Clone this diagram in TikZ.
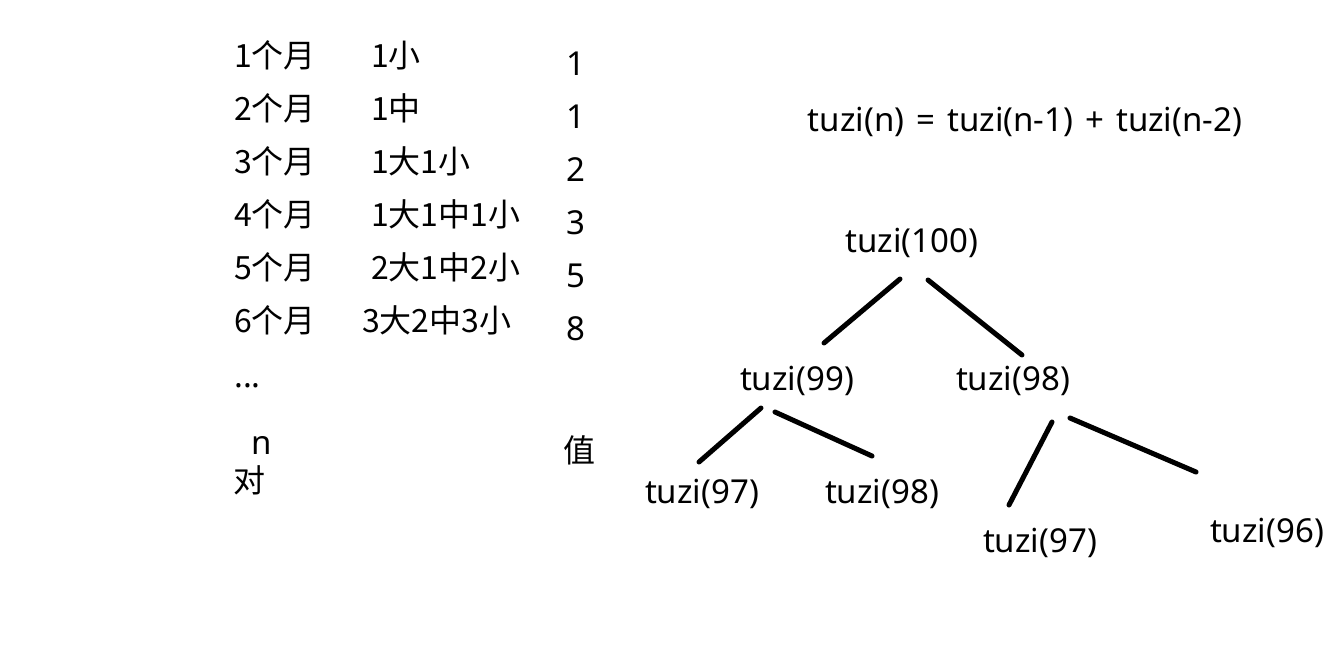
\documentclass[tikz,border=0pt]{standalone}
\usepackage{fontspec}
\setmainfont{Noto Sans}[WordSpace=1.4]
\newfontfamily\cjk{Noto Sans CJK SC}
\usepackage{tikz}

\begin{document}
\begin{tikzpicture}[x=1pt, y=-1pt,
    every node/.style={font=\fontsize{33}{38}\selectfont, inner sep=0pt},
    zh/.style={font=\cjk\fontsize{32}{38}\selectfont},
    branch/.style={line width=5pt, line cap=round}]
  \useasboundingbox [fill=white] (0, 0) rectangle (1339, 667);
  % months
  \node [zh, anchor=base west] (m1) at (234, 67) {1个月};
  \node [zh, anchor=base west] (m2) at (234, 120) {2个月};
  \node [zh, anchor=base west] (m3) at (234, 173) {3个月};
  \node [zh, anchor=base west] (m4) at (234, 226) {4个月};
  \node [zh, anchor=base west] (m5) at (234, 279) {5个月};
  \node [zh, anchor=base west] (m6) at (234, 332) {6个月};
  \node [anchor=base west] (dots) at (234, 387) {...};
  \node [anchor=base west] (n) at (251, 454) {n};
  \node [zh, anchor=base west] (pairs) at (233, 492) {对};
  % rabbits
  \node [zh, anchor=base west] (r1) at (371, 67) {1小};
  \node [zh, anchor=base west] (r2) at (371, 120) {1中};
  \node [zh, anchor=base west] (r3) at (371, 173) {1大1小};
  \node [zh, anchor=base west] (r4) at (371, 226) {1大1中1小};
  \node [zh, anchor=base west] (r5) at (371, 279) {2大1中2小};
  \node [zh, anchor=base west] (r6) at (362, 332) {3大2中3小};
  % values
  \node [anchor=base] (v1) at (576, 75) {1};
  \node [anchor=base] (v2) at (576, 128) {1};
  \node [anchor=base] (v3) at (576, 181) {2};
  \node [anchor=base] (v4) at (576, 234) {3};
  \node [anchor=base] (v5) at (576, 287) {5};
  \node [anchor=base] (v6) at (576, 340) {8};
  \node [zh, anchor=base] (val) at (579, 462) {值};
  % recursion
  \node [anchor=base] (rule) at (1025, 131) {tuzi(n) = tuzi(n-1) + tuzi(n-2)};
  \node [anchor=base] (t100) at (912, 252) {tuzi(100)};
  \node [anchor=base] (t99) at (797, 390) {tuzi(99)};
  \node [anchor=base] (t98) at (1013, 390) {tuzi(98)};
  \node [anchor=base] (t97a) at (702, 503) {tuzi(97)};
  \node [anchor=base] (t98b) at (882, 503) {tuzi(98)};
  \node [anchor=base] (t97b) at (1040, 552) {tuzi(97)};
  \node [anchor=base] (t96) at (1267, 542) {tuzi(96)};
  \coordinate (e1s) at (900, 279); \coordinate (e1t) at (824, 343);
  \coordinate (e2s) at (928, 280); \coordinate (e2t) at (1022, 355);
  \coordinate (e3s) at (761, 408); \coordinate (e3t) at (699, 462);
  \coordinate (e4s) at (775, 412); \coordinate (e4t) at (872, 456);
  \coordinate (e5s) at (1052, 422); \coordinate (e5t) at (1009, 505);
  \coordinate (e6s) at (1070, 418); \coordinate (e6t) at (1196, 472);
  \draw [branch] (e1s) -- (e1t);
  \draw [branch] (e2s) -- (e2t);
  \draw [branch] (e3s) -- (e3t);
  \draw [branch] (e4s) -- (e4t);
  \draw [branch] (e5s) -- (e5t);
  \draw [branch] (e6s) -- (e6t);
\end{tikzpicture}
\end{document}
